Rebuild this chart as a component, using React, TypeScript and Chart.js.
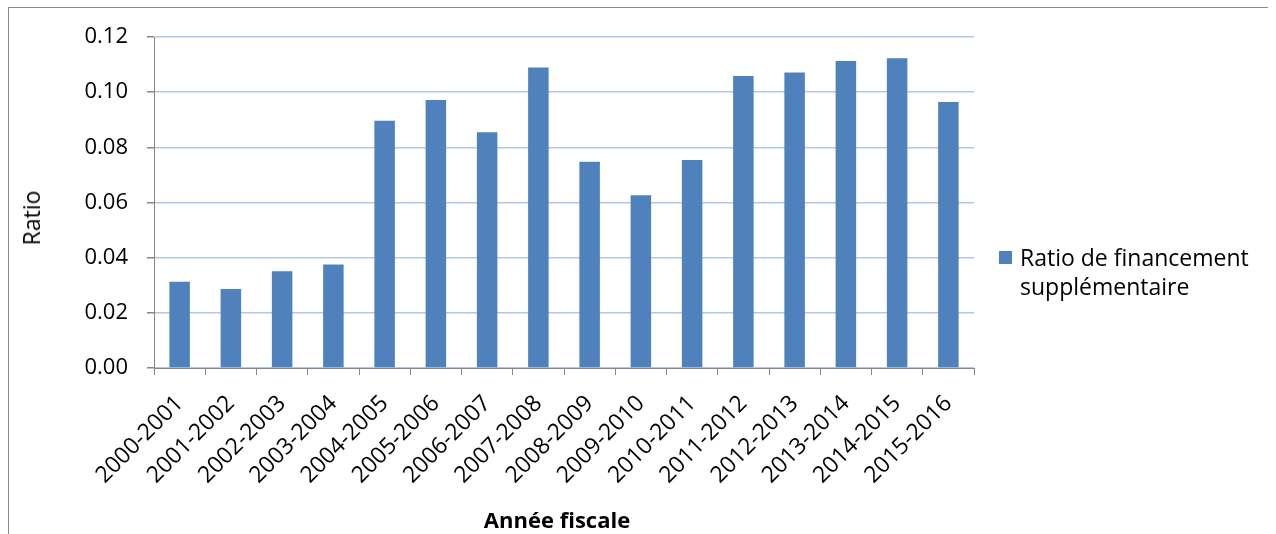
import React, { useEffect, useRef } from "react";
import { Chart, registerables } from "chart.js";

Chart.register(...registerables);

const categories = [
  "2000-2001", "2001-2002", "2002-2003", "2003-2004", "2004-2005", "2005-2006",
  "2006-2007", "2007-2008", "2008-2009", "2009-2010", "2010-2011", "2011-2012",
  "2012-2013", "2013-2014", "2014-2015", "2015-2016",
];

const ratioValues = [
  0.0313, 0.0286, 0.0351, 0.0375, 0.0896, 0.0972, 0.0855, 0.1089,
  0.0748, 0.0626, 0.0754, 0.1059, 0.1071, 0.1113, 0.1123, 0.0964,
];

const seriesName = "Ratio de financement supplémentaire";
const legendLines = ["Ratio de financement", "supplémentaire"];
const yTitle = "Ratio";
const xTitle = "Année fiscale";
const yTickMin = 0;
const yTickMax = 0.12;
const yTickStep = 0.02;

const FONT = "'Open Sans', Lato, sans-serif";
const BAR = "#4f81bd";
const AXIS = "#868686";
const GRID = "#b4c8e6";

export default function App() {
  const canvasRef = useRef<HTMLCanvasElement | null>(null);

  useEffect(() => {
    if (!canvasRef.current) return;
    const chart = new Chart(canvasRef.current, {
      type: "bar",
      data: {
        labels: categories,
        datasets: [
          {
            label: seriesName,
            data: ratioValues,
            backgroundColor: BAR,
            borderWidth: 0,
            categoryPercentage: 1,
            barPercentage: 0.4,
          },
        ],
      },
      options: {
        animation: false,
        responsive: false,
        maintainAspectRatio: false,
        layout: { padding: { top: 37, right: 302, left: 0, bottom: 0 } },
        plugins: {
          legend: { display: false },
          tooltip: { enabled: false },
        },
        scales: {
          x: {
            afterFit: (scale: any) => {
              scale.height = 166;
            },
            grid: {
              display: true,
              offset: true,
              drawOnChartArea: false,
              drawTicks: true,
              tickLength: 7,
              tickColor: AXIS,
              color: AXIS,
            },
            border: { display: true, color: AXIS, width: 1 },
            ticks: {
              autoSkip: false,
              maxRotation: 45,
              minRotation: 45,
              padding: 15,
              color: "#000",
              font: { family: FONT, size: 23 },
            },
            title: { display: false },
          },
          y: {
            min: yTickMin,
            max: yTickMax,
            afterFit: (scale: any) => {
              scale.width = 154;
            },
            grid: {
              color: GRID,
              lineWidth: 1.5,
              drawTicks: true,
              tickLength: 7,
              tickColor: AXIS,
            },
            border: { display: true, color: AXIS, width: 1 },
            ticks: {
              stepSize: yTickStep,
              padding: 19,
              color: "#000",
              font: { family: FONT, size: 22 },
              callback: (v: any) => Number(v).toFixed(2),
            },
            title: { display: false },
          },
        },
      },
    });
    return () => chart.destroy();
  }, []);

  return (
    <div style={{ position: "fixed", left: 0, top: 0, width: 1276, height: 534, overflow: "hidden", background: "#fff" }}>
      <div
        style={{
          position: "absolute",
          left: 8,
          top: 7,
          width: 1259,
          height: 560,
          borderTop: "1px solid #898989",
          borderLeft: "1px solid #898989",
        }}
      />
      <canvas ref={canvasRef} width={1276} height={534} style={{ position: "absolute", left: 0, top: 0 }} />
      <div
        style={{
          position: "absolute",
          left: 31,
          top: 218,
          transform: "translate(-50%, -50%) rotate(-90deg)",
          fontFamily: FONT,
          fontSize: 23,
          lineHeight: "26px",
          whiteSpace: "nowrap",
          color: "#000",
        }}
      >
        {yTitle}
      </div>
      <div
        style={{
          position: "absolute",
          left: 557,
          top: 519,
          transform: "translate(-50%, -50%)",
          fontFamily: FONT,
          fontSize: 22,
          fontWeight: "bold",
          lineHeight: "26px",
          whiteSpace: "nowrap",
          color: "#000",
        }}
      >
        {xTitle}
      </div>
      <div
        style={{
          position: "absolute",
          left: 999,
          top: 243,
          fontFamily: FONT,
          fontSize: 23,
          lineHeight: "29px",
          color: "#000",
          display: "flex",
          alignItems: "flex-start",
        }}
      >
        <div style={{ width: 13, height: 13, background: BAR, marginTop: 8, marginRight: 8, flexShrink: 0 }} />
        <div>
          {legendLines.map((l) => (
            <div key={l} style={{ whiteSpace: "nowrap" }}>{l}</div>
          ))}
        </div>
      </div>
    </div>
  );
}
